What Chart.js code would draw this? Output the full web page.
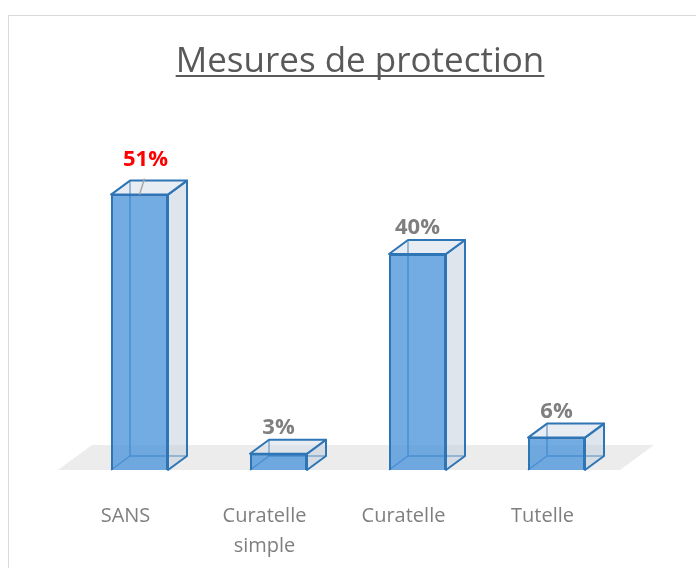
<!DOCTYPE html>
<html>
<head>
<meta charset="utf-8">
<script src="https://cdn.jsdelivr.net/npm/chart.js@4.4.1/dist/chart.umd.min.js"></script>
<style>
  html, body { margin: 0; padding: 0; background: #fff; }
  #wrap { width: 696px; height: 568px; }
</style>
</head>
<body>
<div id="wrap"><canvas id="protChart" width="696" height="568"></canvas></div>
<script>
const categories = ['SANS', ['Curatelle', 'simple'], 'Curatelle', 'Tutelle'];
const values = [51, 3, 40, 6];
const valueLabels = ['51%', '3%', '40%', '6%'];
const labelColors = ['#ff0000', '#7f7f7f', '#7f7f7f', '#7f7f7f'];

const DX = 19, DY = -14; // 3D depth offset

const frame3d = {
    id: 'frame3d',
    beforeDraw(chart) {
        const c = chart.ctx;
        c.save();
        c.fillStyle = '#fff';
        c.fillRect(0, 0, chart.width, chart.height);
        c.strokeStyle = '#d9d9d9';
        c.lineWidth = 1;
        c.strokeRect(8.5, 15.5, 800, 700);
        // title, underlined
        c.font = '35px "Open Sans"';
        c.fillStyle = '#595959';
        c.textAlign = 'center';
        c.textBaseline = 'alphabetic';
        const t = 'Mesures de protection';
        c.fillText(t, 360, 72);
        const w = c.measureText(t).width;
        c.fillRect(360 - w / 2, 75, w, 2);
        c.restore();
    },
    beforeDatasetsDraw(chart) {
        const c = chart.ctx, a = chart.chartArea;
        c.save();
        // floor
        c.fillStyle = '#ececec';
        c.beginPath();
        c.moveTo(a.left - 12, a.bottom);
        c.lineTo(a.right - 6, a.bottom);
        c.lineTo(a.right - 6 + 34, a.bottom - 25);
        c.lineTo(a.left - 12 + 34, a.bottom - 25);
        c.closePath();
        c.fill();
        // hidden back edges
        c.strokeStyle = '#2e75b6';
        c.lineWidth = 1.5;
        chart.getDatasetMeta(0).data.forEach(b => {
            const l = b.x - b.width / 2;
            c.beginPath();
            c.moveTo(l, b.base);
            c.lineTo(l + DX, b.base + DY);
            c.lineTo(l + DX + b.width, b.base + DY);
            c.moveTo(l + DX, b.base + DY);
            c.lineTo(l + DX, b.y + DY);
            c.stroke();
        });
        c.restore();
    },
    afterDatasetsDraw(chart) {
        const c = chart.ctx;
        c.save();
        c.lineJoin = 'round';
        chart.getDatasetMeta(0).data.forEach((b, i) => {
            const l = b.x - b.width / 2, r = b.x + b.width / 2;
            // right side face
            c.fillStyle = 'rgba(195,208,222,0.55)';
            c.strokeStyle = '#2e75b6';
            c.lineWidth = 2;
            c.beginPath();
            c.moveTo(r, b.y);
            c.lineTo(r + DX, b.y + DY);
            c.lineTo(r + DX, b.base + DY);
            c.lineTo(r, b.base);
            c.closePath();
            c.fill();
            c.stroke();
            // top face
            c.fillStyle = 'rgba(210,220,232,0.5)';
            c.beginPath();
            c.moveTo(l, b.y);
            c.lineTo(l + DX, b.y + DY);
            c.lineTo(r + DX, b.y + DY);
            c.lineTo(r, b.y);
            c.closePath();
            c.fill();
            c.stroke();
            // value label
            let lx = b.x, ly = b.y - 26;
            if (i === 0) {
                lx += 6; ly -= 9;
                c.strokeStyle = '#a6a6a6';
                c.lineWidth = 1.5;
                c.beginPath();
                c.moveTo(b.x, b.y);
                c.lineTo(b.x + 5, b.y - 16);
                c.stroke();
            }
            c.font = 'bold 22px "Open Sans"';
            c.fillStyle = labelColors[i];
            c.textAlign = 'center';
            c.textBaseline = 'middle';
            c.fillText(valueLabels[i], lx, ly);
        });
        c.restore();
    }
};

new Chart(document.getElementById('protChart').getContext('2d'), {
    type: 'bar',
    data: {
        labels: categories,
        datasets: [{
            data: values,
            backgroundColor: 'rgba(80,150,220,0.8)',
            borderColor: '#2e75b6',
            borderWidth: 2,
            barPercentage: 0.41,
            categoryPercentage: 1
        }]
    },
    options: {
        responsive: false,
        animation: false,
        layout: { padding: { left: 70, right: 70, top: 146, bottom: 0 } },
        plugins: { legend: { display: false }, tooltip: { enabled: false }, title: { display: false } },
        scales: {
            y: { display: false, min: 0, max: 60 },
            x: {
                grid: { display: false },
                border: { display: false },
                ticks: {
                    color: '#7f7f7f',
                    font: { family: 'Open Sans', size: 20, lineHeight: 1.5 },
                    padding: 23,
                    labelOffset: -14,
                    maxRotation: 0
                },
                afterFit(s) { s.height = 98; }
            }
        }
    },
    plugins: [frame3d]
});
</script>
</body>
</html>
